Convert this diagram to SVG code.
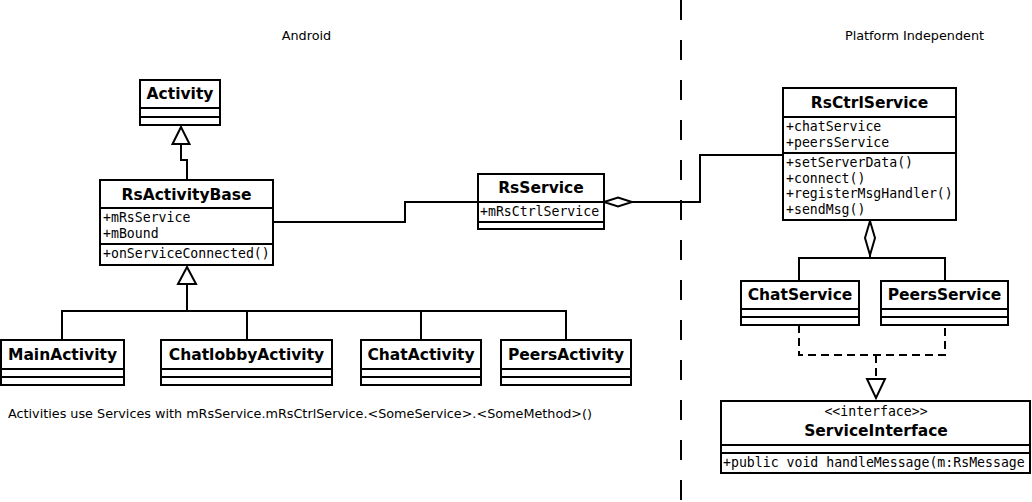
<svg xmlns="http://www.w3.org/2000/svg" width="1032" height="502" viewBox="0 0 1032 502">
<defs>
<style>
.box{fill:#fff;stroke:#000;stroke-width:2}
.sep{stroke:#000;stroke-width:2}
.title{font-family:"DejaVu Sans",sans-serif;font-weight:bold;font-size:15.5px;text-anchor:middle;fill:#000}
.mono{font-family:"DejaVu Sans Mono",monospace;font-size:13.2px;fill:#000}
.label{font-family:"DejaVu Sans",sans-serif;font-size:12.8px;fill:#000}
.conn{fill:none;stroke:#000;stroke-width:2}
.dash{fill:none;stroke:#000;stroke-width:2;stroke-dasharray:8,5}
.tri{fill:#fff;stroke:#000;stroke-width:2}
</style>
<clipPath id="siclip"><rect x="721" y="401" width="309" height="72"/></clipPath>
</defs>
<rect width="1032" height="502" fill="#fff"/>

<g id="labels">
<text class="label" x="306.5" y="40" text-anchor="middle">Android</text>
<text class="label" x="914.5" y="40" text-anchor="middle">Platform Independent</text>
<text class="label" x="8" y="418" textLength="584" lengthAdjust="spacingAndGlyphs">Activities use Services with mRsService.mRsCtrlService.&lt;SomeService&gt;.&lt;SomeMethod&gt;()</text>
</g>

<g id="divider">
<line x1="681" y1="0" x2="681" y2="502" stroke="#000" stroke-width="2" stroke-dasharray="20,20"/>
</g>

<g id="connectors">
<polyline class="conn" points="187,180 187,160 181,160 181,144"/>
<polygon class="tri" points="181,127 172.5,144 189.5,144"/>
<polyline class="conn" points="187,284 187,311"/>
<polyline class="conn" points="62,340 62,311 566,311 566,340"/>
<line class="conn" x1="247" y1="311" x2="247" y2="340"/>
<line class="conn" x1="421" y1="311" x2="421" y2="340"/>
<polygon class="tri" points="187,267 178,284 196,284"/>
<polyline class="conn" points="273,222 405,222 405,202 478,202"/>
<polyline class="conn" points="632,202 700,202 700,155 783,155"/>
<polygon class="tri" points="604,202 618,197.5 632,202 618,206.5"/>
<polyline class="conn" points="870,255 870,258"/>
<polyline class="conn" points="799,281 799,258 945,258 945,281"/>
<polygon class="tri" points="870,221 875,238 870,255 865,238"/>
<polyline class="dash" points="799,325 799,355 945,355 945,325"/>
<polyline class="dash" points="876,355 876,379"/>
<polygon class="tri" points="876,398 867,379 885,379"/>
</g>

<g id="Activity">
<rect class="box" x="140" y="80" width="80" height="45"/>
<line class="sep" x1="140" y1="108" x2="220" y2="108"/>
<line class="sep" x1="140" y1="117" x2="220" y2="117"/>
<text class="title" x="180" y="99">Activity</text>
</g>

<g id="RsActivityBase">
<rect class="box" x="100" y="180" width="173" height="85"/>
<line class="sep" x1="100" y1="208" x2="273" y2="208"/>
<line class="sep" x1="100" y1="244" x2="273" y2="244"/>
<text class="title" x="186.5" y="200">RsActivityBase</text>
<text class="mono" x="103" y="222">+mRsService</text>
<text class="mono" x="103" y="238">+mBound</text>
<text class="mono" x="103" y="258">+onServiceConnected()</text>
</g>

<g id="RsService">
<rect class="box" x="478" y="174" width="126" height="55"/>
<line class="sep" x1="478" y1="202" x2="604" y2="202"/>
<line class="sep" x1="478" y1="222" x2="604" y2="222"/>
<text class="title" x="541" y="193">RsService</text>
<text class="mono" x="480" y="216">+mRsCtrlService</text>
</g>

<g id="RsCtrlService">
<rect class="box" x="783" y="88" width="173" height="132"/>
<line class="sep" x1="783" y1="117" x2="956" y2="117"/>
<line class="sep" x1="783" y1="153" x2="956" y2="153"/>
<text class="title" x="869.5" y="108">RsCtrlService</text>
<text class="mono" x="786" y="131">+chatService</text>
<text class="mono" x="786" y="147">+peersService</text>
<text class="mono" x="786" y="167">+setServerData()</text>
<text class="mono" x="786" y="183">+connect()</text>
<text class="mono" x="786" y="198">+registerMsgHandler()</text>
<text class="mono" x="786" y="214">+sendMsg()</text>
</g>

<g id="ChatService">
<rect class="box" x="741" y="281" width="118" height="44"/>
<line class="sep" x1="741" y1="309" x2="859" y2="309"/>
<line class="sep" x1="741" y1="317" x2="859" y2="317"/>
<text class="title" x="800" y="300">ChatService</text>
</g>

<g id="PeersService">
<rect class="box" x="881" y="281" width="127" height="44"/>
<line class="sep" x1="881" y1="309" x2="1008" y2="309"/>
<line class="sep" x1="881" y1="317" x2="1008" y2="317"/>
<text class="title" x="944.5" y="300">PeersService</text>
</g>

<g id="MainActivity">
<rect class="box" x="1" y="340" width="123" height="45"/>
<line class="sep" x1="1" y1="369" x2="124" y2="369"/>
<line class="sep" x1="1" y1="377" x2="124" y2="377"/>
<text class="title" x="62.5" y="360">MainActivity</text>
</g>

<g id="ChatlobbyActivity">
<rect class="box" x="161" y="340" width="171" height="45"/>
<line class="sep" x1="161" y1="369" x2="332" y2="369"/>
<line class="sep" x1="161" y1="377" x2="332" y2="377"/>
<text class="title" x="246.5" y="360">ChatlobbyActivity</text>
</g>

<g id="ChatActivity">
<rect class="box" x="361" y="340" width="120" height="45"/>
<line class="sep" x1="361" y1="369" x2="481" y2="369"/>
<line class="sep" x1="361" y1="377" x2="481" y2="377"/>
<text class="title" x="421" y="360">ChatActivity</text>
</g>

<g id="PeersActivity">
<rect class="box" x="501" y="340" width="130" height="45"/>
<line class="sep" x1="501" y1="369" x2="631" y2="369"/>
<line class="sep" x1="501" y1="377" x2="631" y2="377"/>
<text class="title" x="566" y="360">PeersActivity</text>
</g>

<g id="ServiceInterface">
<rect class="box" x="721" y="401" width="309" height="72"/>
<line class="sep" x1="721" y1="445" x2="1030" y2="445"/>
<line class="sep" x1="721" y1="453" x2="1030" y2="453"/>
<text class="mono" x="876" y="416" text-anchor="middle" font-size="11">&lt;&lt;interface&gt;&gt;</text>
<text class="title" x="876" y="436">ServiceInterface</text>
<text class="mono" x="723" y="467" clip-path="url(#siclip)">+public void handleMessage(m:RsMessage</text>
</g>
</svg>
